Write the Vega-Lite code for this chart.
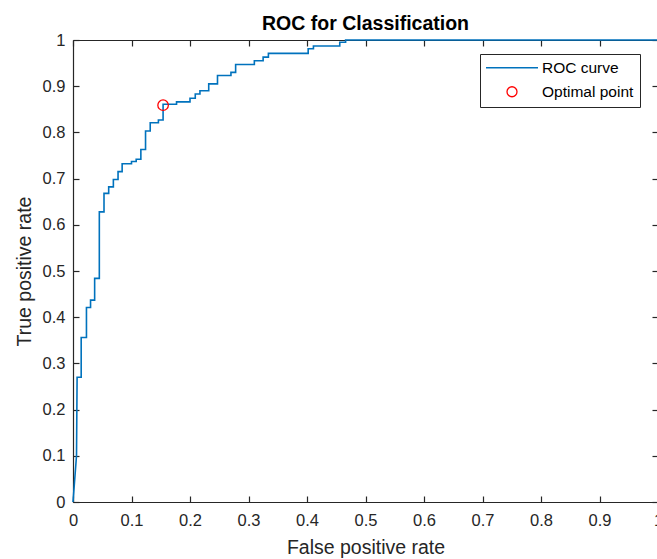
{
  "$schema": "https://vega.github.io/schema/vega-lite/v6.json",
  "width": 585,
  "height": 462,
  "autosize": {"type": "none"},
  "padding": {"left": 73, "top": 40, "right": 0, "bottom": 57},
  "background": "white",
  "config": {
    "font": "Liberation Sans",
    "view": {"stroke": null},
    "axis": {
      "domainColor": "#262626",
      "tickColor": "#262626",
      "labelColor": "#262626",
      "titleColor": "#262626",
      "labelFontSize": 16.5,
      "titleFontSize": 19.5,
      "titleFontWeight": "normal",
      "grid": false,
      "tickSize": -6,
      "domainWidth": 1.2,
      "tickWidth": 1.2
    }
  },
  "title": {
    "text": "ROC for Classification",
    "fontSize": 19.5,
    "fontWeight": "bold",
    "color": "#000000",
    "anchor": "middle",
    "frame": "group",
    "baseline": "alphabetic",
    "offset": 10,
    "dy": 27
  },
  "datasets": {
    "roc": [
      {"i": 0, "fpr": 0, "tpr": 0},
      {"i": 1, "fpr": 0.006, "tpr": 0.1},
      {"i": 2, "fpr": 0.007, "tpr": 0.27},
      {"i": 3, "fpr": 0.014, "tpr": 0.27},
      {"i": 4, "fpr": 0.014, "tpr": 0.356},
      {"i": 5, "fpr": 0.023, "tpr": 0.356},
      {"i": 6, "fpr": 0.023, "tpr": 0.421},
      {"i": 7, "fpr": 0.03, "tpr": 0.421},
      {"i": 8, "fpr": 0.03, "tpr": 0.437},
      {"i": 9, "fpr": 0.037, "tpr": 0.437},
      {"i": 10, "fpr": 0.037, "tpr": 0.484},
      {"i": 11, "fpr": 0.045, "tpr": 0.484},
      {"i": 12, "fpr": 0.045, "tpr": 0.628},
      {"i": 13, "fpr": 0.053, "tpr": 0.628},
      {"i": 14, "fpr": 0.053, "tpr": 0.668},
      {"i": 15, "fpr": 0.061, "tpr": 0.668},
      {"i": 16, "fpr": 0.061, "tpr": 0.682},
      {"i": 17, "fpr": 0.069, "tpr": 0.682},
      {"i": 18, "fpr": 0.069, "tpr": 0.698},
      {"i": 19, "fpr": 0.077, "tpr": 0.698},
      {"i": 20, "fpr": 0.077, "tpr": 0.715},
      {"i": 21, "fpr": 0.084, "tpr": 0.715},
      {"i": 22, "fpr": 0.084, "tpr": 0.732},
      {"i": 23, "fpr": 0.1, "tpr": 0.732},
      {"i": 24, "fpr": 0.1, "tpr": 0.737},
      {"i": 25, "fpr": 0.108, "tpr": 0.737},
      {"i": 26, "fpr": 0.108, "tpr": 0.742},
      {"i": 27, "fpr": 0.116, "tpr": 0.742},
      {"i": 28, "fpr": 0.116, "tpr": 0.763},
      {"i": 29, "fpr": 0.124, "tpr": 0.763},
      {"i": 30, "fpr": 0.124, "tpr": 0.803},
      {"i": 31, "fpr": 0.132, "tpr": 0.803},
      {"i": 32, "fpr": 0.132, "tpr": 0.821},
      {"i": 33, "fpr": 0.146, "tpr": 0.821},
      {"i": 34, "fpr": 0.146, "tpr": 0.827},
      {"i": 35, "fpr": 0.154, "tpr": 0.827},
      {"i": 36, "fpr": 0.154, "tpr": 0.861},
      {"i": 37, "fpr": 0.177, "tpr": 0.861},
      {"i": 38, "fpr": 0.177, "tpr": 0.866},
      {"i": 39, "fpr": 0.2, "tpr": 0.866},
      {"i": 40, "fpr": 0.2, "tpr": 0.874},
      {"i": 41, "fpr": 0.209, "tpr": 0.874},
      {"i": 42, "fpr": 0.209, "tpr": 0.883},
      {"i": 43, "fpr": 0.217, "tpr": 0.883},
      {"i": 44, "fpr": 0.217, "tpr": 0.89},
      {"i": 45, "fpr": 0.232, "tpr": 0.89},
      {"i": 46, "fpr": 0.232, "tpr": 0.905},
      {"i": 47, "fpr": 0.247, "tpr": 0.905},
      {"i": 48, "fpr": 0.247, "tpr": 0.923},
      {"i": 49, "fpr": 0.27, "tpr": 0.923},
      {"i": 50, "fpr": 0.27, "tpr": 0.93},
      {"i": 51, "fpr": 0.278, "tpr": 0.93},
      {"i": 52, "fpr": 0.278, "tpr": 0.947},
      {"i": 53, "fpr": 0.31, "tpr": 0.947},
      {"i": 54, "fpr": 0.31, "tpr": 0.955},
      {"i": 55, "fpr": 0.325, "tpr": 0.955},
      {"i": 56, "fpr": 0.325, "tpr": 0.963},
      {"i": 57, "fpr": 0.334, "tpr": 0.963},
      {"i": 58, "fpr": 0.334, "tpr": 0.971},
      {"i": 59, "fpr": 0.402, "tpr": 0.971},
      {"i": 60, "fpr": 0.402, "tpr": 0.981},
      {"i": 61, "fpr": 0.411, "tpr": 0.981},
      {"i": 62, "fpr": 0.411, "tpr": 0.987},
      {"i": 63, "fpr": 0.456, "tpr": 0.987},
      {"i": 64, "fpr": 0.456, "tpr": 0.995},
      {"i": 65, "fpr": 0.466, "tpr": 0.995},
      {"i": 66, "fpr": 0.466, "tpr": 1},
      {"i": 67, "fpr": 1, "tpr": 1}
    ],
    "opt": [
      {"fpr": 0.154, "tpr": 0.859}
    ]
  },
  "layer": [
    {
      "data": {"name": "roc"},
      "mark": {"type": "line", "strokeWidth": 1.6, "clip": false},
      "encoding": {
        "x": {
          "field": "fpr", "type": "quantitative",
          "scale": {"domain": [0, 1], "nice": false, "zero": false},
          "axis": {
            "orient": "bottom",
            "title": "False positive rate",
            "values": [0, 0.1, 0.2, 0.3, 0.4, 0.5, 0.6, 0.7, 0.8, 0.9, 1],
            "format": "~g",
            "labelPadding": 16,
            "titlePadding": 10,
            "labelFlush": false,
            "labelOverlap": false
          }
        },
        "y": {
          "field": "tpr", "type": "quantitative",
          "scale": {"domain": [0, 1], "nice": false, "zero": false},
          "axis": {
            "orient": "left",
            "title": "True positive rate",
            "values": [0, 0.1, 0.2, 0.3, 0.4, 0.5, 0.6, 0.7, 0.8, 0.9, 1],
            "format": "~g",
            "labelPadding": 14,
            "titlePadding": 8,
            "labelFlush": false,
            "labelOverlap": false
          }
        },
        "order": {"field": "i", "type": "quantitative"},
        "color": {
          "datum": "ROC curve",
          "scale": {"domain": ["ROC curve", "Optimal point"], "range": ["#0072BD", "#FF0000"]},
          "legend": {
            "orient": "none",
            "legendX": 407,
            "legendY": 14,
            "title": null,
            "strokeColor": "#262626",
            "fillColor": "white",
            "padding": 6,
            "symbolSize": 100,
            "rowPadding": 7,
            "labelFontSize": 15.5,
            "labelColor": "#000000",
            "symbolStrokeWidth": 1.3,
            "encode": {
              "symbols": {
                "update": {
                  "x": {"value": 26},
                  "shape": {"signal": "datum.value === 'ROC curve' ? 'stroke' : 'circle'"},
                  "size": {"signal": "datum.value === 'ROC curve' ? 2704 : 100"},
                  "fill": {"value": "transparent"},
                  "opacity": {"value": 1}
                }
              },
              "labels": {
                "update": {
                  "x": {"value": 56}
                }
              }
            }
          }
        }
      }
    },
    {
      "data": {"name": "opt"},
      "mark": {"type": "point", "shape": "circle", "filled": false, "size": 110, "strokeWidth": 1.3, "opacity": 1},
      "encoding": {
        "x": {
          "field": "fpr", "type": "quantitative",
          "axis": {"orient": "top", "title": null, "labels": false, "values": [0, 0.1, 0.2, 0.3, 0.4, 0.5, 0.6, 0.7, 0.8, 0.9, 1]}
        },
        "y": {
          "field": "tpr", "type": "quantitative",
          "axis": {"orient": "right", "title": null, "labels": false, "values": [0, 0.1, 0.2, 0.3, 0.4, 0.5, 0.6, 0.7, 0.8, 0.9, 1]}
        },
        "color": {"datum": "Optimal point"}
      }
    }
  ],
  "resolve": {"axis": {"x": "independent", "y": "independent"}}
}
